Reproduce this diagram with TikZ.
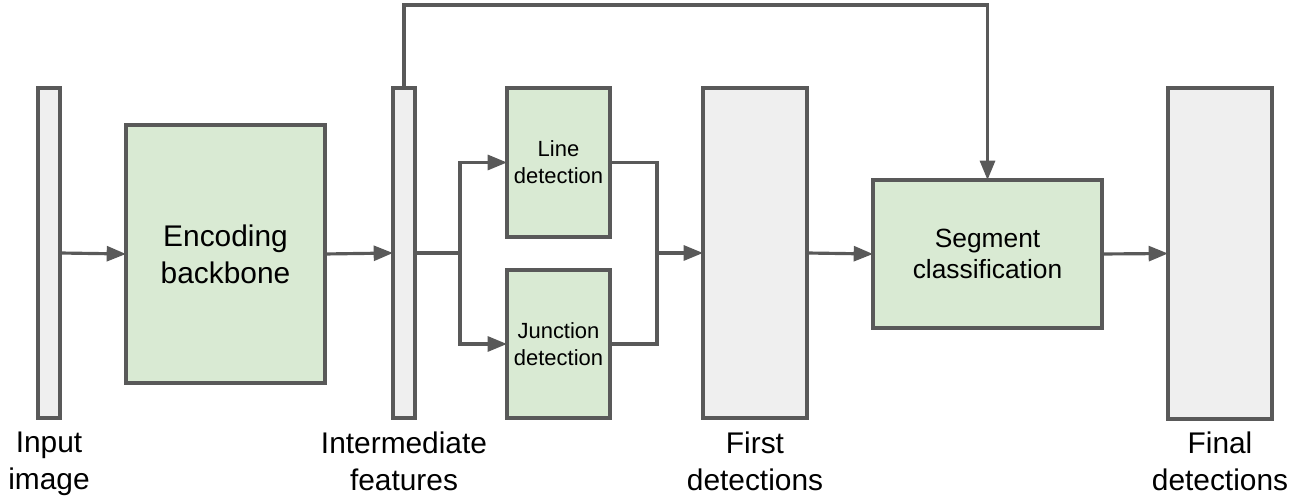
\documentclass[tikz,border=0pt]{standalone}
\usepackage{fontspec}
\setmainfont{Liberation Sans}
\usetikzlibrary{arrows.meta}
\definecolor{boxgreen}{HTML}{D9EAD3}
\definecolor{bargray}{HTML}{EFEFEF}
\definecolor{edgegray}{HTML}{595959}

\begin{document}
\begin{tikzpicture}[x=0.02cm, y=-0.02cm,
      bar/.style={draw=edgegray, fill=bargray, line width=1.8pt, inner sep=0pt, outer sep=0pt},
      block/.style={draw=edgegray, fill=boxgreen, line width=1.8pt, inner sep=0pt, outer sep=0pt, align=center},
      caption/.style={anchor=north, inner sep=0pt, align=center, font=\fontsize{17}{21}\selectfont},
      arr/.style={draw=edgegray, line width=1.8pt, -{Triangle[length=11pt,width=8.5pt]}},
      link/.style={draw=edgegray, line width=1.8pt}
      ]
      \useasboundingbox (0,0) rectangle (1304,499);
      % stages
      \node[bar, minimum width=0.44cm, minimum height=6.6cm] (input) at (49,253) {};
      \node[block, minimum width=3.98cm, minimum height=5.16cm, font=\fontsize{17}{21}\selectfont] (encoder) at (225.5,254) {Encoding\\backbone};
      \node[bar, minimum width=0.44cm, minimum height=6.6cm] (features) at (404,253) {};
      \node[block, minimum width=2.06cm, minimum height=2.98cm, font=\fontsize{12.5}{15.2}\selectfont] (linedet) at (558.5,162.5) {Line\\detection};
      \node[block, minimum width=2.06cm, minimum height=2.96cm, font=\fontsize{12.5}{15.2}\selectfont] (juncdet) at (558.5,344) {Junction\\detection};
      \node[bar, minimum width=2.08cm, minimum height=6.6cm] (firstdet) at (755,253) {};
      \node[block, minimum width=4.58cm, minimum height=2.96cm, font=\fontsize{15}{18}\selectfont] (segcls) at (987.5,254) {Segment\\classification};
      \node[bar, minimum width=2.08cm, minimum height=6.62cm] (finaldet) at (1220,253.5) {};
      % captions
      \node[caption] (inputlbl) at (49,432) {Input\\image};
      \node[caption] (featureslbl) at (404,432) {Intermediate\\features};
      \node[caption] (firstlbl) at (755,432) {First\\detections};
      \node[caption] (finallbl) at (1220,432) {Final\\detections};
      % connectors
      \coordinate (split) at (460,253);
      \coordinate (merge) at (657,253);
      \coordinate (skip) at (404,5);
      \draw[arr] (input.east) -- (encoder.west);
      \draw[arr] (encoder.east) -- (features.west);
      \draw[link] (features.east) -- (split);
      \draw[arr] (split) |- (linedet.west);
      \draw[arr] (split) |- (juncdet.west);
      \draw[link] (linedet.east) -| (merge);
      \draw[link] (juncdet.east) -| (merge);
      \draw[arr] (merge) -- (firstdet.west);
      \draw[arr] (firstdet.east) -- (segcls.west);
      \draw[arr] (segcls.east) -- (finaldet.west);
      \draw[arr] (features.north) -- (skip) -| (segcls.north);
    \end{tikzpicture}
\end{document}
